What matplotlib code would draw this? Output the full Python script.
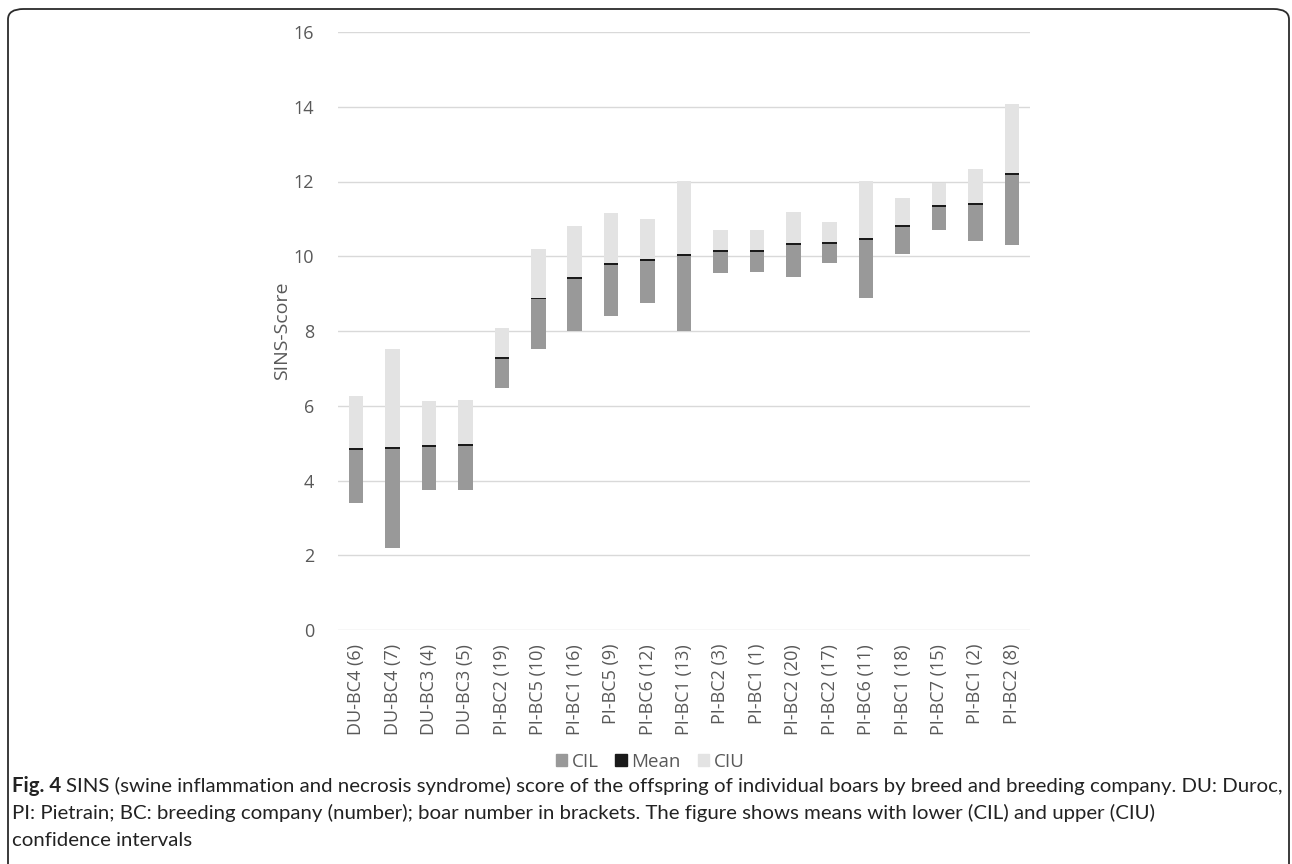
import matplotlib
matplotlib.use("Agg")
import matplotlib.pyplot as plt
from matplotlib.patches import FancyBboxPatch, Patch

# Boar groups, ordered as in the chart
boars = [
    "DU-BC4 (6)", "DU-BC4 (7)", "DU-BC3 (4)", "DU-BC3 (5)", "PI-BC2 (19)",
    "PI-BC5 (10)", "PI-BC1 (16)", "PI-BC5 (9)", "PI-BC6 (12)", "PI-BC1 (13)",
    "PI-BC2 (3)", "PI-BC1 (1)", "PI-BC2 (20)", "PI-BC2 (17)", "PI-BC6 (11)",
    "PI-BC1 (18)", "PI-BC7 (15)", "PI-BC1 (2)", "PI-BC2 (8)",
]
ci_lower = [3.41, 2.20, 3.74, 3.74, 6.48, 7.51, 7.99, 8.41, 8.76, 8.01,
            9.54, 9.57, 9.45, 9.81, 8.89, 10.06, 10.71, 10.42, 10.31]
means = [4.85, 4.87, 4.93, 4.96, 7.28, 8.87, 9.41, 9.79, 9.89, 10.03,
         10.13, 10.14, 10.33, 10.36, 10.45, 10.82, 11.35, 11.39, 12.20]
ci_upper = [6.26, 7.52, 6.13, 6.16, 8.08, 10.20, 10.82, 11.16, 11.00, 12.01,
            10.71, 10.70, 11.18, 10.92, 12.01, 11.56, 11.96, 12.33, 14.08]

caption_lines = [
    "SINS (swine inflammation and necrosis syndrome) score of the offspring of "
    "individual boars by breed and breeding company. DU: Duroc,",
    "PI: Pietrain; BC: breeding company (number); boar number in brackets. "
    "The figure shows means with lower (CIL) and upper (CIU)",
    "confidence intervals",
]

C_CIL = "#999999"
C_MEAN = "#1a1a1a"
C_CIU = "#e3e3e3"
GRID = "#d9d9d9"
TXT = "#595959"
FONT = ["Open Sans", "DejaVu Sans"]
CAP_FONT = ["Lato", "DejaVu Sans"]
MEAN_T = 0.05  # thickness of the mean marker
FS = 13

plt.rcParams["font.family"] = FONT

fig = plt.figure(figsize=(12.92, 8.64), dpi=100)
W, H = 1292, 864

# rounded caption frame (bottom edge runs off the page)
frame = FancyBboxPatch((8 / W, -30 / H), (1289 - 8) / W, (864 - 9 + 30) / H,
                       boxstyle="round,pad=0,rounding_size=0.012",
                       transform=fig.transFigure, fill=False,
                       ec="#2b2b2b", lw=1.3)
fig.patches.append(frame)

ax = fig.add_axes([338 / W, 1 - 630 / H, (1030 - 338) / W, (630 - 32) / H])
x = list(range(len(boars)))
w = 0.4

low_h = [m - lo for m, lo in zip(means, ci_lower)]
up_h = [hi - m for hi, m in zip(ci_upper, means)]
ax.bar(x, low_h, w, bottom=ci_lower, color=C_CIL, zorder=3)
ax.bar(x, up_h, w, bottom=means, color=C_CIU, zorder=3)
ax.bar(x, [MEAN_T] * len(x), w, bottom=[m - MEAN_T / 2 for m in means],
       color=C_MEAN, zorder=5)

ax.set_xlim(-0.5, len(boars) - 0.5)
ax.set_ylim(0, 16)
ax.set_yticks(range(0, 17, 2))
ax.yaxis.grid(True, color=GRID, lw=1.0, zorder=0)
ax.set_axisbelow(True)
for s in ax.spines.values():
    s.set_visible(False)
ax.tick_params(axis="both", length=0, colors=TXT, labelsize=FS)
ax.tick_params(axis="y", pad=17)
ax.tick_params(axis="x", pad=10)
ax.set_xticks(x)
ax.set_xticklabels(boars, rotation=90)
ax.set_ylabel("SINS-Score", color=TXT, fontsize=14, labelpad=2)

handles = [Patch(color=C_CIL, label="CIL"), Patch(color=C_MEAN, label="Mean"),
           Patch(color=C_CIU, label="CIU")]
fig.legend(handles=handles, loc="center", bbox_to_anchor=(650 / W, 1 - 762 / H),
           ncol=3, frameon=False, labelcolor=TXT,
           handlelength=0.6, handleheight=0.6, handletextpad=0.25,
           columnspacing=0.9, prop={"size": 13.5})

# caption: fit the first line to the width used in the reference
fig.canvas.draw()
r = fig.canvas.get_renderer()
cap_size = 12
t0 = fig.text(12 / W, 1 - 786 / H, "Fig. 4", fontsize=cap_size, fontweight="bold",
              color="#222222", va="center", ha="left", family=CAP_FONT)
bb = t0.get_window_extent(renderer=r)
t1 = fig.text((bb.x1 + 5) / W, 1 - 786 / H, caption_lines[0],
              fontsize=cap_size, color="#222222", va="center", ha="left",
              family=CAP_FONT)
end = t1.get_window_extent(renderer=r).x1
scale = (1275 - 12) / (end - 12)
cap_size = cap_size * scale
t0.set_fontsize(cap_size)
bb = t0.get_window_extent(renderer=r)
t1.set_fontsize(cap_size)
t1.set_x((bb.x1 + 5) / W)
fig.text(12 / W, 1 - 813 / H, caption_lines[1],
         fontsize=cap_size, color="#222222", va="center", ha="left", family=CAP_FONT)
fig.text(12 / W, 1 - 840 / H, caption_lines[2],
         fontsize=cap_size, color="#222222", va="center", ha="left", family=CAP_FONT)

fig.savefig("out.png", dpi=100)
